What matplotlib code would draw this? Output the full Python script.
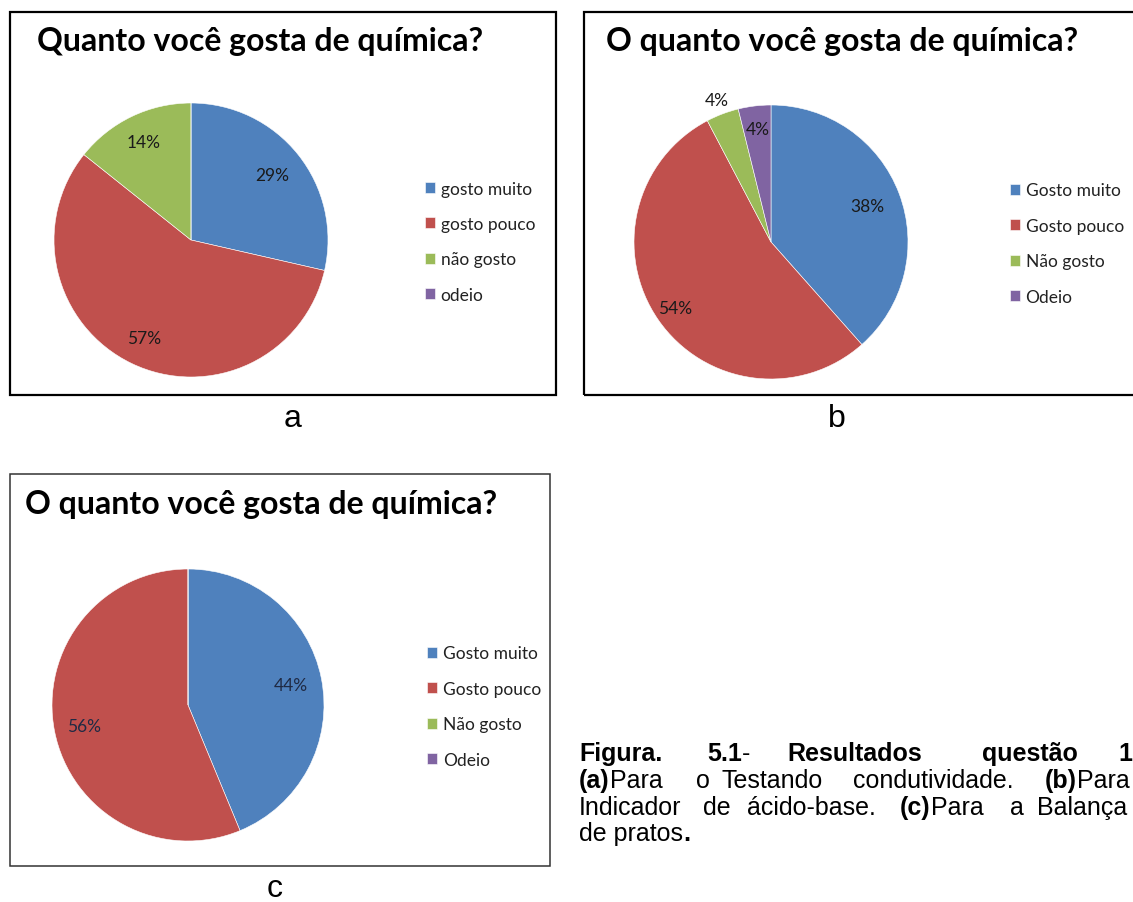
import matplotlib
matplotlib.use("Agg")
import matplotlib.pyplot as plt
from matplotlib.patches import Rectangle
from matplotlib.text import Annotation
import numpy as np

W, H = 1133, 903

# ---- data ----
colors = ["#4F81BD", "#C0504D", "#9BBB59", "#8064A2"]
labels_a = ["gosto muito", "gosto pouco", "não gosto", "odeio"]
values_a = [4, 8, 2, 0]
labels_b = ["Gosto muito", "Gosto pouco", "Não gosto", "Odeio"]
values_b = [10, 14, 1, 1]
labels_c = ["Gosto muito", "Gosto pouco", "Não gosto", "Odeio"]
values_c = [7, 9, 0, 0]
title_a = "Quanto você gosta de química?"
title_b = "O quanto você gosta de química?"
title_c = "O quanto você gosta de química?"

fig = plt.figure(figsize=(W / 100, H / 100), dpi=100)
fig.patch.set_facecolor("white")

CH = "Lato"
CAP = "Liberation Sans"


def fx(x):
    return x / W


def fy(y):
    return 1 - y / H


def box(x0, y0, x1, y1, lw=1.6, color="black"):
    fig.patches.append(Rectangle((fx(x0), fy(y1)), fx(x1) - fx(x0), fy(y0) - fy(y1),
                                 transform=fig.transFigure, fill=False,
                                 edgecolor=color, linewidth=lw, zorder=0))


def panel(cx, cy, R, values, labels, title, tx, ty, lx, ly, dists, tsize, lsize, psize,
          txtcol="#1a1a1a"):
    ax = fig.add_axes([fx(cx - R), fy(cy + R), 2 * R / W, 2 * R / H])
    wedges, _ = ax.pie(values, colors=colors, startangle=90, counterclock=False,
                       radius=1, wedgeprops=dict(edgecolor="white", linewidth=0.4))
    ax.set_xlim(-1, 1)
    ax.set_ylim(-1, 1)
    ax.set_aspect("auto")
    ax.axis("off")
    total = sum(values)
    for w, v, d in zip(wedges, values, dists):
        if v == 0:
            continue
        th = np.deg2rad((w.theta1 + w.theta2) / 2)
        ax.text(d * np.cos(th), d * np.sin(th), f"{v / total * 100:.0f}%",
                ha="center", va="center", fontsize=psize, family=CH, color=txtcol,
                clip_on=False)
    fig.text(fx(tx), fy(ty), title, ha="left", va="center", fontsize=tsize,
             family=CH, fontweight="bold", color="black")
    ax.legend(wedges, labels, loc="upper left", bbox_to_anchor=(fx(lx), fy(ly)),
              bbox_transform=fig.transFigure, frameon=False, prop=dict(family=CH, size=lsize),
              handlelength=0.6, handleheight=0.6, handletextpad=0.3,
              labelspacing=1.12, borderpad=0, borderaxespad=0, labelcolor="#222222")
    return ax


# panel a
box(10, 13, 556, 396)
panel(191, 241, 137, values_a, labels_a, title_a, 37, 42, 425, 181.5,
      [0.76, 0.79, 0.79, 0.8], 23, 12.5, 12.5)
fig.text(fx(293), fy(427), "a", ha="center", va="baseline", fontsize=23, family=CAP)

# panel b
box(584, 13, 1140, 396)
panel(771, 243, 137, values_b, labels_b, title_b, 606, 42, 1010, 183.5,
      [0.75, 0.85, 1.11, 0.83], 23, 12.5, 12.5)
fig.text(fx(837), fy(427), "b", ha="center", va="baseline", fontsize=23, family=CAP)

# panel c
box(10, 475, 550, 867, lw=1.1, color="#333333")
panel(188, 706, 136, values_c, labels_c, title_c, 25, 505, 427, 646.5,
      [0.77, 0.78, 0.8, 0.8], 23, 12.5, 12.5, txtcol="#1f2a44")
fig.text(fx(275), fy(897), "c", ha="center", va="baseline", fontsize=23, family=CAP)

# caption (justified: word groups placed at their positions)
cap_size = 18


def group(parts, x, y):
    prev = None
    for s, bold in parts:
        wt = "bold" if bold else "normal"
        if prev is None:
            prev = fig.text(fx(x), fy(y), s, fontsize=cap_size, family=CAP,
                            fontweight=wt, va="baseline", ha="left")
        else:
            prev = fig.add_artist(Annotation(
                s, xy=(1, 0), xycoords=prev, xytext=(0, 0), textcoords="offset points",
                fontsize=cap_size, family=CAP, fontweight=wt, va="bottom", ha="left",
                annotation_clip=False))
    return prev


caption_lines = [
    (761, [(579, [("Figura.", True)]), (707, [("5.1", True), ("-", False)]),
           (787, [("Resultados", True)]), (982, [("questão", True)]), (1118, [("1", True)])]),
    (788, [(579, [("(a)", True), ("Para", False)]), (696, [("o", False)]),
           (722, [("Testando", False)]), (853, [("condutividade.", False)]),
           (1045, [("(b)", True), ("Para", False)])]),
    (815, [(579, [("Indicador", False)]), (703, [("de", False)]),
           (747, [("ácido-base.", False)]), (900, [("(c)", True), ("Para", False)]),
           (1010, [("a", False)]), (1037, [("Balança", False)])]),
    (841, [(579, [("de pratos", False), (".", True)])]),
]
for y, groups in caption_lines:
    for x, parts in groups:
        group(parts, x, y)

fig.savefig("out.png", dpi=100)
